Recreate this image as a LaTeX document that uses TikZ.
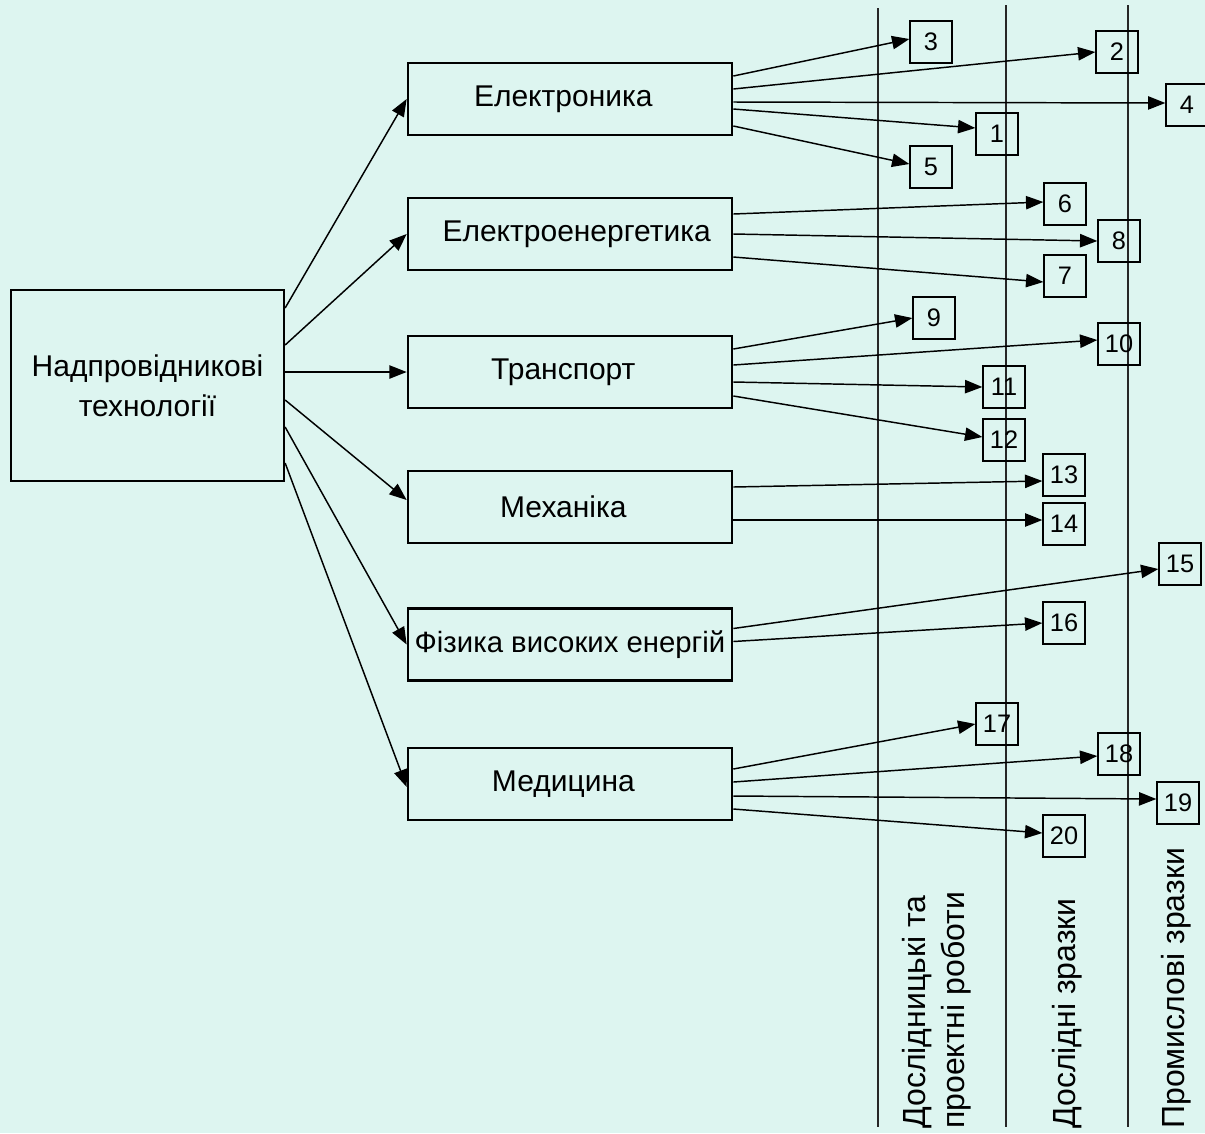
\documentclass[tikz,border=0pt]{standalone}
\usepackage{fontspec}
\setmainfont{Liberation Sans}
\usetikzlibrary{arrows.meta,calc}
\definecolor{bg}{RGB}{221,245,240}
\begin{document}
\begin{tikzpicture}[x=0.75pt,y=-0.75pt,
  mainbox/.style={draw,line width=1.7pt,minimum width=273*0.75pt,minimum height=191*0.75pt,inner sep=0pt,align=center,font=\fontsize{22.5}{30}\selectfont},
  bigbox/.style={draw,line width=2pt,minimum width=324*0.75pt,minimum height=72*0.75pt,inner sep=0pt,font=\fontsize{22.5}{27}\selectfont},
  numbox/.style={draw,line width=1pt,minimum size=42*0.75pt,inner sep=0pt,font=\fontsize{19}{22}\selectfont},
  arr/.style={line width=1.1pt,-{Triangle[length=13pt,width=10pt]}},
  sepline/.style={line width=0.8pt,draw=black!85},
  vlab/.style={rotate=90,anchor=west,inner sep=0pt,align=left,font=\fontsize{24}{29}\selectfont}]
\clip (0,0) rectangle (1205,1133);
\fill[bg] (0,0) rectangle (1205,1133);

% separator lines
\coordinate (v1t) at (878,8);   \coordinate (v1b) at (878,1127);
\coordinate (v2t) at (1006,5);  \coordinate (v2b) at (1006,1127);
\coordinate (v3t) at (1128,5);  \coordinate (v3b) at (1128,1127);
\draw[sepline] (v1t) -- (v1b);
\draw[sepline] (v2t) -- (v2b);
\draw[sepline] (v3t) -- (v3b);

% column labels
\node[vlab] (c1) at (937,1129) {Дослідницькі та\\проектні роботи};
\node[vlab] (c2) at (1067,1129) {Дослідні зразки};
\node[vlab] (c3) at (1176,1129) {Промислові зразки};

% main box
\node[mainbox] (main) at (147.5,385.5) {Надпровідникові\\технології};

% categories
\node[bigbox] (el)  at (570,99)    {\kern-10pt Електроника};
\node[bigbox] (en)  at (570,234)   {\kern10pt Електроенергетика};
\node[bigbox] (tr)  at (570,372)   {\kern-10pt Транспорт};
\node[bigbox] (me)  at (570,507)   {\kern-10pt Механіка};
\node[bigbox] (fi)  at (570,644.5) {\fontsize{22}{27}\selectfont Фізика високих енергій};
\node[bigbox] (md)  at (570,784)   {\kern-10pt Медицина};

% numbered boxes
\node[numbox] (n1)  at (997,134)  {1};
\node[numbox] (n2)  at (1117,52)  {2};
\node[numbox] (n3)  at (931,42)   {3};
\node[numbox] (n4)  at (1187,105) {4};
\node[numbox] (n5)  at (931,167)  {5};
\node[numbox] (n6)  at (1065,204) {6};
\node[numbox] (n7)  at (1065,276) {7};
\node[numbox] (n8)  at (1119,241) {8};
\node[numbox] (n9)  at (934,318)  {9};
\node[numbox] (n10) at (1119,344) {10};
\node[numbox] (n11) at (1004,387) {11};
\node[numbox] (n12) at (1004,440) {12};
\node[numbox] (n13) at (1064,475) {13};
\node[numbox] (n14) at (1064,524) {14};
\node[numbox] (n15) at (1180,564) {15};
\node[numbox] (n16) at (1064,623) {16};
\node[numbox] (n17) at (997,724)  {17};
\node[numbox] (n18) at (1119,754) {18};
\node[numbox] (n19) at (1178,803) {19};
\node[numbox] (n20) at (1064,836) {20};

% main -> categories
\draw[arr] ($(main.east)+(0,-77.5)$) -- (el.west);
\draw[arr] ($(main.east)+(0,-40.5)$) -- (en.west);
\draw[arr] ($(main.east)+(0,-13.5)$) -- (tr.west);
\draw[arr] ($(main.east)+(0,14.5)$)  -- ($(me.west)+(0,-7)$);
\draw[arr] ($(main.east)+(0,41.5)$)  -- (fi.west);
\draw[arr] ($(main.east)+(0,77.5)$)  -- ($(md.west)+(0,3)$);

% Електроника
\draw[arr] ($(el.east)+(0,-23)$) -- ($(n3.west)+(0,-3)$);
\draw[arr] ($(el.east)+(0,-10)$) -- (n2.west);
\draw[arr] ($(el.east)+(0,3)$)   -- ($(n4.west)+(0,-2)$);
\draw[arr] ($(el.east)+(0,10)$)  -- ($(n1.west)+(0,-6)$);
\draw[arr] ($(el.east)+(0,27)$)  -- ($(n5.west)+(0,-3)$);

% Електроенергетика
\draw[arr] ($(en.east)+(0,-20)$) -- ($(n6.west)+(0,-2)$);
\draw[arr] ($(en.east)+(0,0)$)   -- (n8.west);
\draw[arr] ($(en.east)+(0,23)$)  -- ($(n7.west)+(0,6)$);

% Транспорт
\draw[arr] ($(tr.east)+(0,-23)$) -- (n9.west);
\draw[arr] ($(tr.east)+(0,-7)$)  -- ($(n10.west)+(0,-4)$);
\draw[arr] ($(tr.east)+(0,10)$)  -- (n11.west);
\draw[arr] ($(tr.east)+(0,24)$)  -- ($(n12.west)+(0,-3)$);

% Механіка
\draw[arr] ($(me.east)+(0,-20)$) -- ($(n13.west)+(0,6)$);
\draw[arr] ($(me.east)+(0,13)$)  -- ($(n14.west)+(0,-4)$);

% Фізика високих енергій
\draw[arr] ($(fi.east)+(0,-16)$) -- ($(n15.west)+(0,5)$);
\draw[arr] ($(fi.east)+(0,-3)$)  -- (n16.west);

% Медицина
\draw[arr] ($(md.east)+(0,-15)$) -- (n17.west);
\draw[arr] ($(md.east)+(0,-2)$)  -- ($(n18.west)+(0,2)$);
\draw[arr] ($(md.east)+(0,12)$)  -- ($(n19.west)+(0,-4)$);
\draw[arr] ($(md.east)+(0,25)$)  -- ($(n20.west)+(0,-3)$);
\end{tikzpicture}
\end{document}
